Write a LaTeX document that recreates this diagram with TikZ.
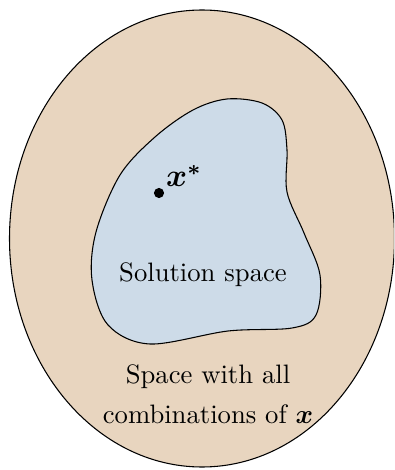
\documentclass[tikz,border=0pt]{standalone}
\usepackage{amsmath,amssymb,bm}
\usepackage{xcolor}
\usetikzlibrary{positioning}
\definecolor{spacebg}{RGB}{232,213,191}
\definecolor{solbg}{RGB}{205,219,232}
\begin{document}
\begin{tikzpicture}[
  x=0.375pt, y=-0.375pt,
  font=\normalsize,
  outer/.style={draw,fill=spacebg,line width=0.4pt},
  region/.style={draw,fill=solbg,line width=0.4pt},
  pt/.style={circle,fill=black,inner sep=0pt,minimum size=3.8pt},
  lbl/.style={align=center,inner sep=1pt}
]
\clip (0,0) rectangle (394,470);
\useasboundingbox (0,0) rectangle (394,470);
\draw[outer] (202,238.5) ellipse [x radius=192.5, y radius=228.5];
\draw[region] plot[smooth cycle,tension=0.55] coordinates {
  (193,110) (227,99) (262,103) (282,120) (287,150) (287,192) (304,233)
  (320,275) (316,315) (292,328) (228,331) (150,344) (108,325) (92,280)
  (96,232) (120,175) (155,137)};
\node[pt] (xstar) at (159,193) {};
\node[lbl,font=\large,anchor=base west] (xlab) at (163,187) {$\bm{x}^{\bm{*}}$};
\node[lbl] (sol) at (203,275) {Solution space};
\node[lbl] (all) at (208,394) {Space with all\\[3pt]combinations of $\bm{x}$};
\end{tikzpicture}
\end{document}
